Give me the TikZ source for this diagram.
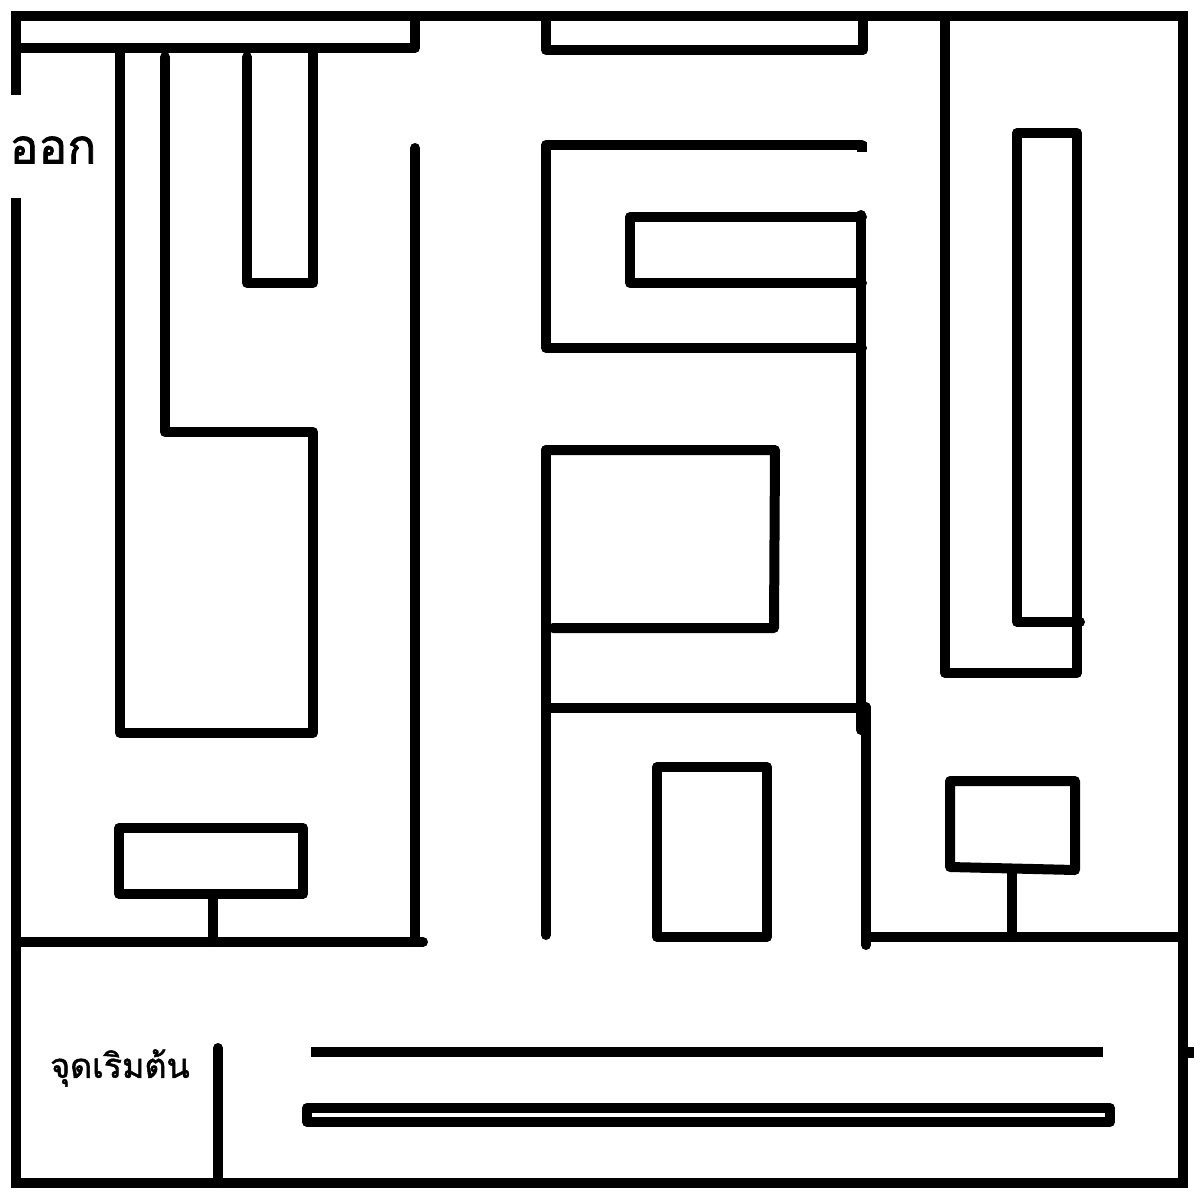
\documentclass[tikz,border=0pt]{standalone}
\usepackage{fontspec}
\newfontfamily\thaifont[Script=Thai,FakeBold=1.5]{Loma}
\begin{document}
\begin{tikzpicture}[x=1pt,y=-1pt,
  wall/.style={line width=10pt,line cap=round,line join=round},
  flatwall/.style={line width=10pt,line cap=butt},
  thailabel/.style={font=\thaifont, inner sep=0pt, text=black}]
\useasboundingbox (0,0) rectangle (1200,1200);
\fill[white] (0,0) rectangle (1200,1200);
% outer border
\draw[line width=10pt,line cap=butt,line join=miter] (16,95) -- (16,16) -- (1183,16) -- (1183,1183) -- (16,1183) -- (16,198);
% top-left strip
\draw[wall] (16,48) -- (415,48) -- (415,16);
% big left shape
\draw[wall] (120,48) -- (120,733) -- (313,733) -- (313,432) -- (165,432) -- (165,57);
% U shape
\draw[wall] (247,57) -- (247,283) -- (313,283) -- (313,48);
% long vertical and bottom of left area
\draw[wall] (415,148) -- (415,942);
\draw[wall] (16,942) -- (423,942);
% small box with stem
\draw[wall] (119,828) rectangle (303,894);
\draw[wall] (213,894) -- (213,942);
% top middle
\draw[wall] (546,16) -- (546,50) -- (863,50) -- (863,16);
% G shape
\draw[wall] (862,145) -- (546,145) -- (546,348) -- (862,348);
\draw[flatwall] (857,147) -- (867,147);
\draw[wall] (862,217) -- (630,217) -- (630,283) -- (862,283);
\draw[wall] (861,215) -- (861,730);
\draw[wall] (546,708) -- (866,708);
\draw[wall] (866,707) -- (866,945);
\draw[wall] (866,937) -- (1183,937);
% middle box
\draw[wall] (546,450) -- (546,935);
\draw[wall] (546,450) -- (775,450) -- (774,628) -- (553,628);
% lower middle box
\draw[wall] (657,767) rectangle (767,937);
% right column
\draw[wall] (945,16) -- (945,673) -- (1077,673) -- (1077,133) -- (1017,133) -- (1017,622) -- (1080,622);
% lower right box with stem
\draw[wall] (950,781) -- (1075,781) -- (1075,870) -- (950,867) -- cycle;
\draw[wall] (1012,870) -- (1012,937);
% bottom area
\draw[wall] (218,1048) -- (218,1183);
\draw[flatwall] (311,1052) -- (1103,1052);
\draw[line width=11pt,line cap=butt] (1178,1052) -- (1194,1052);
\draw[wall] (307,1108) rectangle (1110,1122);
% labels
\node[thailabel, font=\thaifont\fontsize{48}{48}\selectfont] (exit) at (53,150) {ออก};
\node[thailabel, font=\thaifont\fontsize{34}{34}\selectfont] (start) at (120,1068) {จุดเริมต้น};
\end{tikzpicture}
\end{document}
